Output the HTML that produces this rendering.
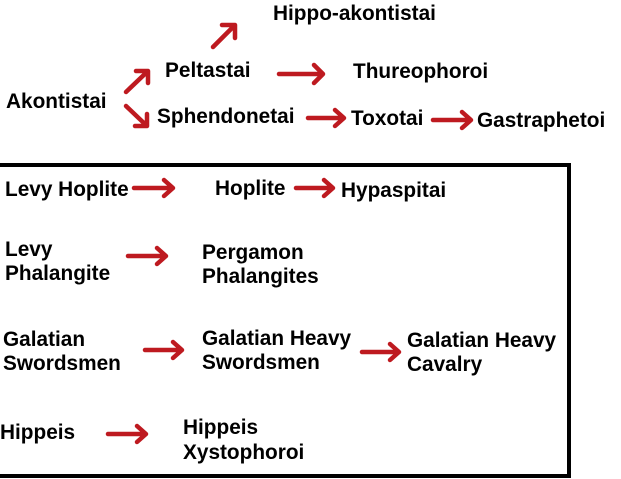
<!DOCTYPE html>
<html><head><meta charset="utf-8"><style>
html,body{margin:0;padding:0;background:#fff;width:621px;height:479px;overflow:hidden}
text{font-family:"Liberation Sans",Arial,sans-serif;font-weight:bold;font-size:20.8px;fill:#000}
.a{stroke:#be1a20;stroke-width:4.5;fill:none;stroke-linecap:round;stroke-linejoin:round}
</style></head><body>
<svg width="621" height="479" viewBox="0 0 621 479" xmlns="http://www.w3.org/2000/svg">
<path d="M0 165 H569 V476 H0" fill="none" stroke="#000" stroke-width="4"/>
<text x="273" y="20">Hippo-akontistai</text>
<text x="165" y="77">Peltastai</text>
<text x="353" y="78">Thureophoroi</text>
<text x="6" y="108">Akontistai</text>
<text x="157" y="123">Sphendonetai</text>
<text x="351" y="125">Toxotai</text>
<text x="477" y="127">Gastraphetoi</text>
<text x="5" y="196">Levy Hoplite</text>
<text x="215" y="195">Hoplite</text>
<text x="341" y="197">Hypaspitai</text>
<text x="5" y="256">Levy</text><text x="5" y="280">Phalangite</text>
<text x="202" y="259">Pergamon</text><text x="202" y="283">Phalangites</text>
<text x="3" y="346">Galatian</text><text x="3" y="370">Swordsmen</text>
<text x="202" y="345">Galatian Heavy</text><text x="202" y="369">Swordsmen</text>
<text x="407" y="347">Galatian Heavy</text><text x="407" y="371">Cavalry</text>
<text x="0" y="439">Hippeis</text>
<text x="183" y="434">Hippeis</text><text x="183" y="459">Xystophoroi</text>
<g class="a">
<path d="M213 47 L235 25 M222 25 H235 V38"/>
<path d="M126 92 L148 71 M136 71 H148 V83"/>
<path d="M126 106 L147 126 M147 114 V126 H135"/>
<path d="M279 74 H322 M314 65 L323 74 L314 83"/>
<path d="M308 118 H343 M335 110 L344 118 L335 126"/>
<path d="M433 120 H470 M462 112 L471 120 L462 128"/>
<path d="M134 188 H172 M164 180 L173 188 L164 196"/>
<path d="M296 188 H332 M324 180 L333 188 L324 196"/>
<path d="M128 256 H165 M157 248 L166 256 L157 264"/>
<path d="M145 350 H181 M173 342 L182 350 L173 358"/>
<path d="M362 352 H398 M390 344 L399 352 L390 360"/>
<path d="M108 434 H145 M137 426 L146 434 L137 442"/>
</g>
</svg>
</body></html>
